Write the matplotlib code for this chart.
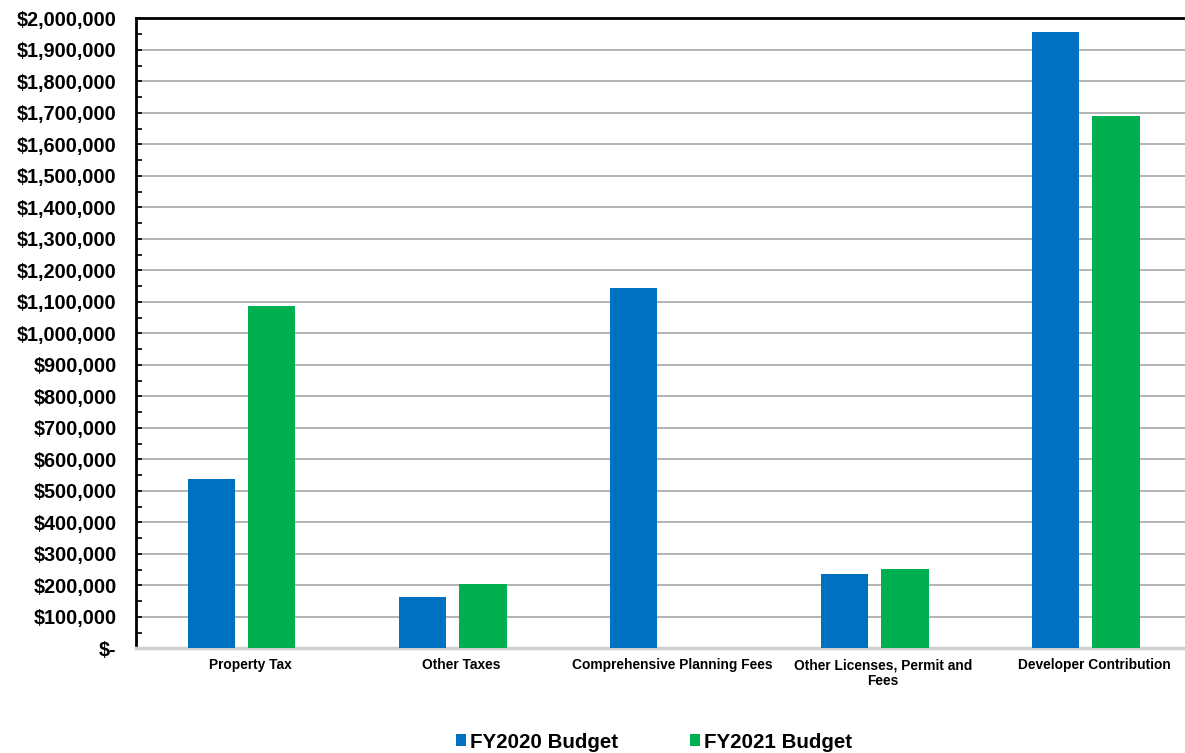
import matplotlib.pyplot as plt
import numpy as np
from matplotlib.ticker import FuncFormatter, MultipleLocator

plt.rcParams['font.family'] = ['Liberation Sans', 'DejaVu Sans']
plt.rcParams['font.weight'] = 'bold'

categories = ['Property Tax', 'Other Taxes', 'Comprehensive Planning Fees',
              'Other Licenses, Permit and\nFees', 'Developer Contribution']
fy2020 = [536000, 163000, 1144000, 235000, 1957000]
fy2021 = [1088000, 204000, 0, 253000, 1689000]

blue = '#0070C0'
green = '#00B050'

fig = plt.figure(figsize=(11.85, 7.53), dpi=100)
ax = fig.add_axes([0.1148, 0.139, 0.8905, 0.8367])

x = np.arange(len(categories))
w = 0.225
off = 0.143
ax.bar(x - off, fy2020, w, color=blue, label='FY2020 Budget', zorder=3)
ax.bar(x + off, fy2021, w, color=green, label='FY2021 Budget', zorder=3)

ax.set_xlim(-0.5, len(categories) - 0.5)
ax.set_ylim(0, 2000000)
ax.yaxis.set_major_locator(MultipleLocator(100000))
ax.yaxis.set_minor_locator(MultipleLocator(50000))


def money(v, pos):
    if v == 0:
        return '$-'
    return '${:,.0f}'.format(v)


ax.yaxis.set_major_formatter(FuncFormatter(money))
ax.grid(axis='y', color='#B3B3B3', linewidth=1.4, zorder=0)

ax.set_xticks(x + 0.04)
ax.set_xticklabels(categories, fontsize=9.9, fontweight='bold', linespacing=1.2)
ax.tick_params(axis='x', length=0, pad=7)
ax.tick_params(axis='y', which='both', direction='in', labelsize=14.3, pad=14)
ax.tick_params(axis='y', which='major', length=4, width=1.2)
ax.tick_params(axis='y', which='minor', length=4, width=1.2)
for lbl in ax.get_yticklabels():
    lbl.set_fontweight('bold')

ax.spines['left'].set_linewidth(2)
ax.spines['left'].set_color('black')
ax.spines['top'].set_linewidth(2)
ax.spines['top'].set_color('black')
ax.spines['right'].set_visible(False)
ax.spines['bottom'].set_linewidth(2.5)
ax.spines['bottom'].set_color('#D0D0D0')

fig.legend(loc='center', bbox_to_anchor=(0.552, 0.0146), ncol=2, frameon=False,
           prop={'size': 14.8, 'weight': 'bold'}, handlelength=0.48, handleheight=0.48,
           handletextpad=0.2, columnspacing=3.5, borderpad=0)

fig.savefig('out.png', dpi=100)
